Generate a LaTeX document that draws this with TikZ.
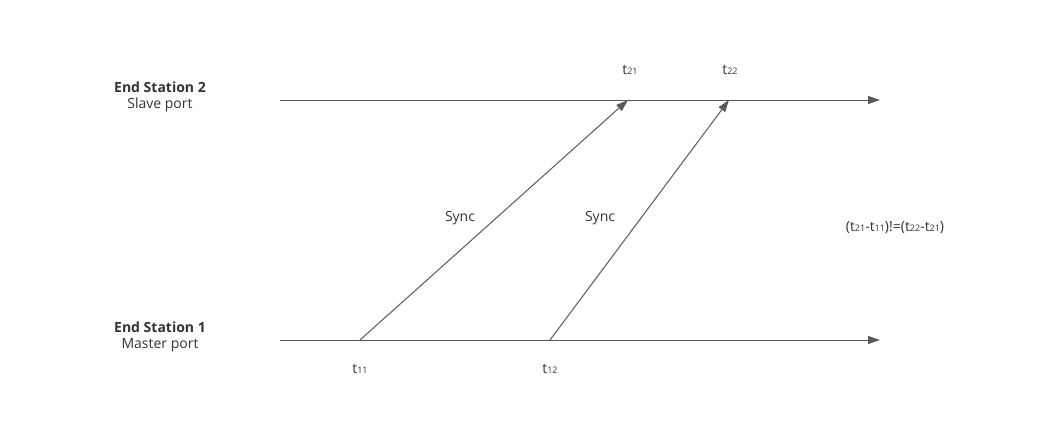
\documentclass[tikz,border=0pt]{standalone}
\usepackage{fontspec}
\setmainfont{Open Sans}
\usetikzlibrary{arrows.meta}
\newcommand\ssub[1]{{\fontsize{9}{10}\selectfont #1}}
\begin{document}
\begin{tikzpicture}[x=1pt,y=-1pt,
  lbl/.style={text=black!80,font=\fontsize{14}{16}\selectfont,inner sep=0pt},
  ln/.style={draw=black!65,line width=1pt,-{Triangle[length=12pt,width=8pt]}}]
\useasboundingbox (0,0) rectangle (1060,440);
\node[lbl,align=center] (es2) at (160,97) {\textbf{End Station 2}\\Slave port};
\node[lbl,align=center] (es1) at (160,337) {\textbf{End Station 1}\\Master port};
\coordinate (a0) at (280,100); \coordinate (a1) at (880,100);
\coordinate (b0) at (280,340); \coordinate (b1) at (880,340);
\coordinate (s1) at (360,340); \coordinate (r1) at (628,100);
\coordinate (s2) at (550,340); \coordinate (r2) at (729,100);
\draw[ln] (a0) -- (a1);
\draw[ln] (b0) -- (b1);
\draw[ln] (s1) -- (r1);
\draw[ln] (s2) -- (r2);
\node[lbl] (t21) at (630,70) {t\ssub{21}};
\node[lbl] (t22) at (730,70) {t\ssub{22}};
\node[lbl] (t11) at (360,369) {t\ssub{11}};
\node[lbl] (t12) at (550,369) {t\ssub{12}};
\node[lbl] (sy1) at (460,218) {Sync};
\node[lbl] (sy2) at (600,218) {Sync};
\node[lbl] (eq) at (895,228) {(t\ssub{21}-t\ssub{11})!=(t\ssub{22}-t\ssub{21})};
\end{tikzpicture}
\end{document}
